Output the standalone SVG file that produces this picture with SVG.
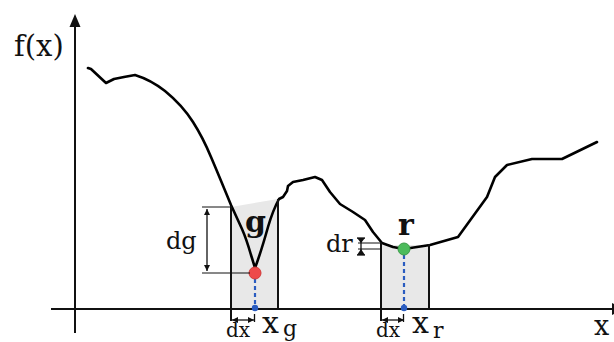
<svg xmlns="http://www.w3.org/2000/svg" width="614" height="342" viewBox="0 0 614 342">
<style>
.ax{stroke:#111;stroke-width:2;fill:none}
.curve{stroke:#000;stroke-width:2.6;fill:none;stroke-linejoin:round;stroke-linecap:round}
.wall{stroke:#111;stroke-width:2;fill:none}
.thin{stroke:#111;stroke-width:1;fill:none}
.dim{stroke:#111;stroke-width:1.3;fill:none}
.box{fill:#e8e8e8;stroke:none}
.dash{stroke:#2a5cc0;stroke-width:2.2;stroke-dasharray:4,3;fill:none}
.t{font-family:"DejaVu Serif","Liberation Serif",serif;fill:#111}
.b{font-family:"DejaVu Serif","Liberation Serif",serif;font-weight:bold;fill:#111}
</style>
<defs>
<marker id="ah" viewBox="0 0 10 10" refX="10" refY="5" markerWidth="6" markerHeight="6" markerUnits="userSpaceOnUse" orient="auto-start-reverse">
<path d="M0,0 L10,5 L0,10 z" fill="#111"/>
</marker>
</defs>
<g id="boxes">
<polygon class="box" points="231,207 278,199 278,309 231,309"/>
<polygon class="box" points="381,245 429,245 429,309 381,309"/>
</g>
<g id="axes">
<line class="ax" x1="75" y1="24" x2="75" y2="333"/>
<path d="M75,14 L80.5,27 L69.5,27 z" fill="#111"/>
<line class="ax" x1="51" y1="309" x2="612" y2="309"/>
<path d="M625,309 L612,303 L612,315 z" fill="#111"/>
<text class="t" x="14" y="56" font-size="29">f(x)</text>
<text class="t" x="594" y="335" font-size="27">x</text>
</g>
<g id="curve">
<path class="curve" d="M88,68 L91,69 L106,83 L114,79 L124,77 L135,75 C148,79 156,84 165,91 C176,100 186,111 193,122 C200,133 206,145 211,157 C217,171 224,188 231,205 L242,229 C246,238 249,248 251,255 C253,261 254,265 255,268 Q261,252 268,227 Q273,210 279,199 L283,197 L287,191 L288,186 L293,182 L303,180 L315,177 L322,180 L330,192 L340,204 L353,212 L365,220 L373,232 L382,243 L393,247 L404,249 L430,245 L458,237 L487,197 L495,177 L507,165 L532,159 L562,159 L597,142"/>
</g>
<g id="node-g">
<line class="wall" x1="231" y1="206" x2="231" y2="321"/>
<line class="wall" x1="278" y1="199" x2="278" y2="309"/>
<line class="dash" x1="255" y1="279" x2="255" y2="305"/>
<circle cx="255" cy="273" r="6" fill="#ee4a4a" stroke="#d23a3a" stroke-width="1"/>
<circle cx="255" cy="308" r="3.2" fill="#2a5cc0"/>
<text class="b" x="245" y="232" font-size="30">g</text>
<text class="t" x="262" y="333" font-size="30">x</text>
<text class="t" x="283" y="336" font-size="22">g</text>
</g>
<g id="node-r">
<line class="wall" x1="381" y1="243" x2="381" y2="321"/>
<line class="wall" x1="429" y1="244" x2="429" y2="309"/>
<line class="dash" x1="404" y1="255" x2="404" y2="305"/>
<circle cx="404" cy="249" r="6" fill="#4cbb5c" stroke="#3a9a48" stroke-width="1"/>
<circle cx="404" cy="308" r="3.2" fill="#2a5cc0"/>
<text class="b" x="398" y="235" font-size="30">r</text>
<text class="t" x="412" y="333" font-size="30">x</text>
<text class="t" x="433" y="338" font-size="22">r</text>
</g>
<g id="dimensions">
<line class="thin" x1="202" y1="207" x2="231" y2="207"/>
<line class="thin" x1="202" y1="273" x2="250" y2="273"/>
<line class="dim" x1="207" y1="209" x2="207" y2="271" marker-start="url(#ah)" marker-end="url(#ah)"/>
<text class="t" x="166" y="249" font-size="24">dg</text>
<line class="dim" x1="232" y1="320" x2="254" y2="320" marker-start="url(#ah)" marker-end="url(#ah)"/>
<line class="dim" x1="254.5" y1="314" x2="254.5" y2="322"/>
<text class="t" x="226" y="337" font-size="20">dx</text>
<line class="dim" x1="382" y1="320" x2="404" y2="320" marker-start="url(#ah)" marker-end="url(#ah)"/>
<line class="dim" x1="403.5" y1="314" x2="403.5" y2="322"/>
<text class="t" x="376" y="337" font-size="20">dx</text>
<line class="thin" x1="358" y1="243" x2="382" y2="243"/>
<line class="thin" x1="358" y1="249" x2="382" y2="249"/>
<line class="dim" x1="361" y1="238" x2="361" y2="255"/>
<line class="dim" x1="357" y1="238" x2="365" y2="238"/>
<line class="dim" x1="357" y1="255" x2="365" y2="255"/>
<path d="M357,238 L365,238 L361,243 z" fill="#111"/>
<path d="M357,255 L365,255 L361,249 z" fill="#111"/>
<text class="t" x="326" y="252" font-size="24">dr</text>
</g>
</svg>
